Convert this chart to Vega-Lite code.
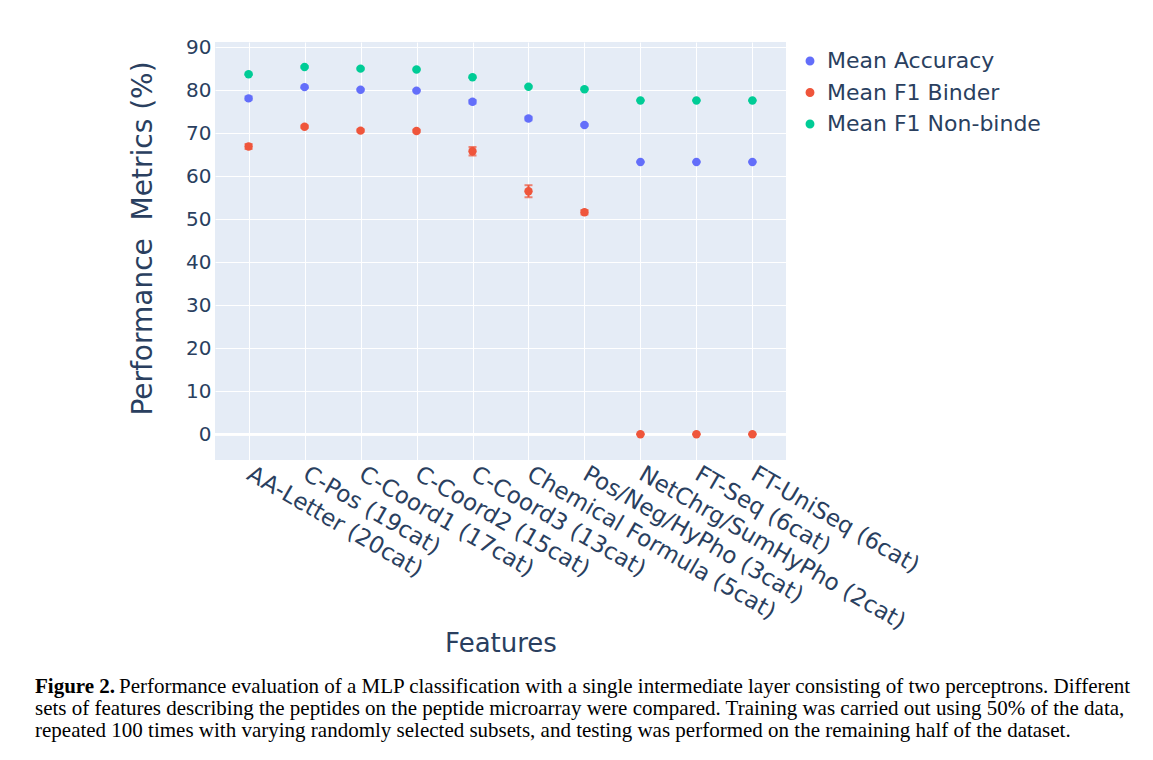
{
  "$schema": "https://vega.github.io/schema/vega-lite/v6.json",
  "autosize": {"type": "none"},
  "width": 571,
  "height": 418,
  "padding": {"left": 215, "top": 42, "right": 367, "bottom": 300},
  "background": "white",
  "title": {
    "text": "Figure 2.",
    "subtitle": [
      "\u200b\u00a0\u00a0\u00a0\u00a0\u00a0\u00a0\u00a0\u00a0\u00a0\u00a0\u00a0\u00a0\u00a0\u00a0\u00a0\u00a0Performance evaluation of a MLP classification with a single intermediate layer consisting of two perceptrons. Different",
      "sets of features describing the peptides on the peptide microarray were compared. Training was carried out using 50% of the data,",
      "repeated 100 times with varying randomly selected subsets, and testing was performed on the remaining half of the dataset."
    ],
    "orient": "bottom",
    "anchor": "start",
    "frame": "group",
    "dx": -180,
    "offset": 19,
    "font": "Liberation Serif",
    "fontSize": 21,
    "fontWeight": "bold",
    "color": "#000000",
    "subtitleFont": "Liberation Serif",
    "subtitleFontSize": 21,
    "subtitleFontWeight": "normal",
    "subtitleColor": "#000000",
    "subtitleLineHeight": 22,
    "subtitlePadding": -21
  },
  "data": {
    "values": [
      {"feature": "AA-Letter (20cat)", "metric": "Mean Accuracy", "value": 78.1, "err": 0.4},
      {"feature": "C-Pos (19cat)", "metric": "Mean Accuracy", "value": 80.7, "err": 0.2},
      {"feature": "C-Coord1 (17cat)", "metric": "Mean Accuracy", "value": 80.1, "err": 0.2},
      {"feature": "C-Coord2 (15cat)", "metric": "Mean Accuracy", "value": 79.9, "err": 0.2},
      {"feature": "C-Coord3 (13cat)", "metric": "Mean Accuracy", "value": 77.3, "err": 0.4},
      {"feature": "Chemical Formula (5cat)", "metric": "Mean Accuracy", "value": 73.4, "err": 0.4},
      {"feature": "Pos/Neg/HyPho (3cat)", "metric": "Mean Accuracy", "value": 71.9, "err": 0.2},
      {"feature": "NetChrg/SumHyPho (2cat)", "metric": "Mean Accuracy", "value": 63.3, "err": 0.05},
      {"feature": "FT-Seq (6cat)", "metric": "Mean Accuracy", "value": 63.3, "err": 0.05},
      {"feature": "FT-UniSeq (6cat)", "metric": "Mean Accuracy", "value": 63.3, "err": 0.05},
      {"feature": "AA-Letter (20cat)", "metric": "Mean F1 Binder", "value": 66.9, "err": 0.6},
      {"feature": "C-Pos (19cat)", "metric": "Mean F1 Binder", "value": 71.5, "err": 0.3},
      {"feature": "C-Coord1 (17cat)", "metric": "Mean F1 Binder", "value": 70.6, "err": 0.3},
      {"feature": "C-Coord2 (15cat)", "metric": "Mean F1 Binder", "value": 70.5, "err": 0.3},
      {"feature": "C-Coord3 (13cat)", "metric": "Mean F1 Binder", "value": 65.8, "err": 1.0},
      {"feature": "Chemical Formula (5cat)", "metric": "Mean F1 Binder", "value": 56.5, "err": 1.4},
      {"feature": "Pos/Neg/HyPho (3cat)", "metric": "Mean F1 Binder", "value": 51.6, "err": 0.5},
      {"feature": "NetChrg/SumHyPho (2cat)", "metric": "Mean F1 Binder", "value": 0, "err": 0},
      {"feature": "FT-Seq (6cat)", "metric": "Mean F1 Binder", "value": 0, "err": 0},
      {"feature": "FT-UniSeq (6cat)", "metric": "Mean F1 Binder", "value": 0, "err": 0},
      {"feature": "AA-Letter (20cat)", "metric": "Mean F1 Non-binde", "value": 83.7, "err": 0.2},
      {"feature": "C-Pos (19cat)", "metric": "Mean F1 Non-binde", "value": 85.4, "err": 0.2},
      {"feature": "C-Coord1 (17cat)", "metric": "Mean F1 Non-binde", "value": 85.0, "err": 0.2},
      {"feature": "C-Coord2 (15cat)", "metric": "Mean F1 Non-binde", "value": 84.8, "err": 0.2},
      {"feature": "C-Coord3 (13cat)", "metric": "Mean F1 Non-binde", "value": 83.0, "err": 0.2},
      {"feature": "Chemical Formula (5cat)", "metric": "Mean F1 Non-binde", "value": 80.8, "err": 0.2},
      {"feature": "Pos/Neg/HyPho (3cat)", "metric": "Mean F1 Non-binde", "value": 80.2, "err": 0.2},
      {"feature": "NetChrg/SumHyPho (2cat)", "metric": "Mean F1 Non-binde", "value": 77.6, "err": 0.05},
      {"feature": "FT-Seq (6cat)", "metric": "Mean F1 Non-binde", "value": 77.6, "err": 0.05},
      {"feature": "FT-UniSeq (6cat)", "metric": "Mean F1 Non-binde", "value": 77.6, "err": 0.05}
    ]
  },
  "encoding": {
    "x": {
      "field": "feature",
      "type": "nominal",
      "sort": null,
      "scale": {"type": "point", "padding": 0.6},
      "axis": {
        "title": "Features",
        "labelAngle": 30,
        "labelAlign": "left",
        "labelBaseline": "middle",
        "labelPadding": 12,
        "labelDx": -10,
        "labelFont": "DejaVu Sans",
        "labelFontSize": 23,
        "labelColor": "#2a3f5f",
        "labelOverlap": false,
        "labelLimit": 0,
        "titleFont": "DejaVu Sans",
        "titleFontSize": 26,
        "titleFontWeight": "normal",
        "titleColor": "#2a3f5f",
        "titlePadding": -3,
        "domain": false,
        "ticks": false,
        "grid": true,
        "gridColor": "white",
        "gridWidth": 1,
        "gridOpacity": 1
      }
    },
    "y": {
      "field": "value",
      "type": "quantitative",
      "scale": {"domain": [-6, 91.2], "nice": false, "zero": false},
      "axis": {
        "title": "Performance\u00a0 Metrics (%)",
        "values": [0, 10, 20, 30, 40, 50, 60, 70, 80, 90],
        "labelFont": "DejaVu Sans",
        "labelFontSize": 20,
        "labelColor": "#2a3f5f",
        "labelPadding": 4,
        "titleFont": "DejaVu Sans",
        "titleFontSize": 28,
        "titleFontWeight": "normal",
        "titleColor": "#2a3f5f",
        "titlePadding": 28,
        "titleY": 196,
        "domain": false,
        "ticks": false,
        "grid": true,
        "gridColor": "white",
        "gridWidth": 1,
        "gridOpacity": 1
      }
    },
    "color": {
      "field": "metric",
      "type": "nominal",
      "scale": {
        "domain": ["Mean Accuracy", "Mean F1 Binder", "Mean F1 Non-binde"],
        "range": ["#636efa", "#EF553B", "#00cc96"]
      },
      "legend": {
        "title": null,
        "orient": "none",
        "legendX": 584,
        "legendY": 8,
        "padding": 0,
        "symbolType": "circle",
        "symbolSize": 55,
        "symbolOpacity": 1,
        "labelFont": "DejaVu Sans",
        "labelFontSize": 22,
        "labelColor": "#2a3f5f",
        "labelOffset": 6,
        "rowPadding": 9.5,
        "labelLimit": 0
      }
    }
  },
  "layer": [
    {
      "mark": {"type": "rule", "color": "white", "strokeWidth": 2},
      "encoding": {"y": {"datum": 0}, "x": null, "color": null}
    },
    {
      "mark": {"type": "errorbar", "ticks": {"size": 8, "thickness": 2}, "thickness": 2},
      "encoding": {
        "yError": {"field": "err"}
      }
    },
    {
      "mark": {"type": "point", "filled": true, "shape": "circle", "size": 70, "opacity": 1}
    }
  ],
  "config": {
    "view": {"fill": "#E5ECF6", "stroke": null}
  }
}
